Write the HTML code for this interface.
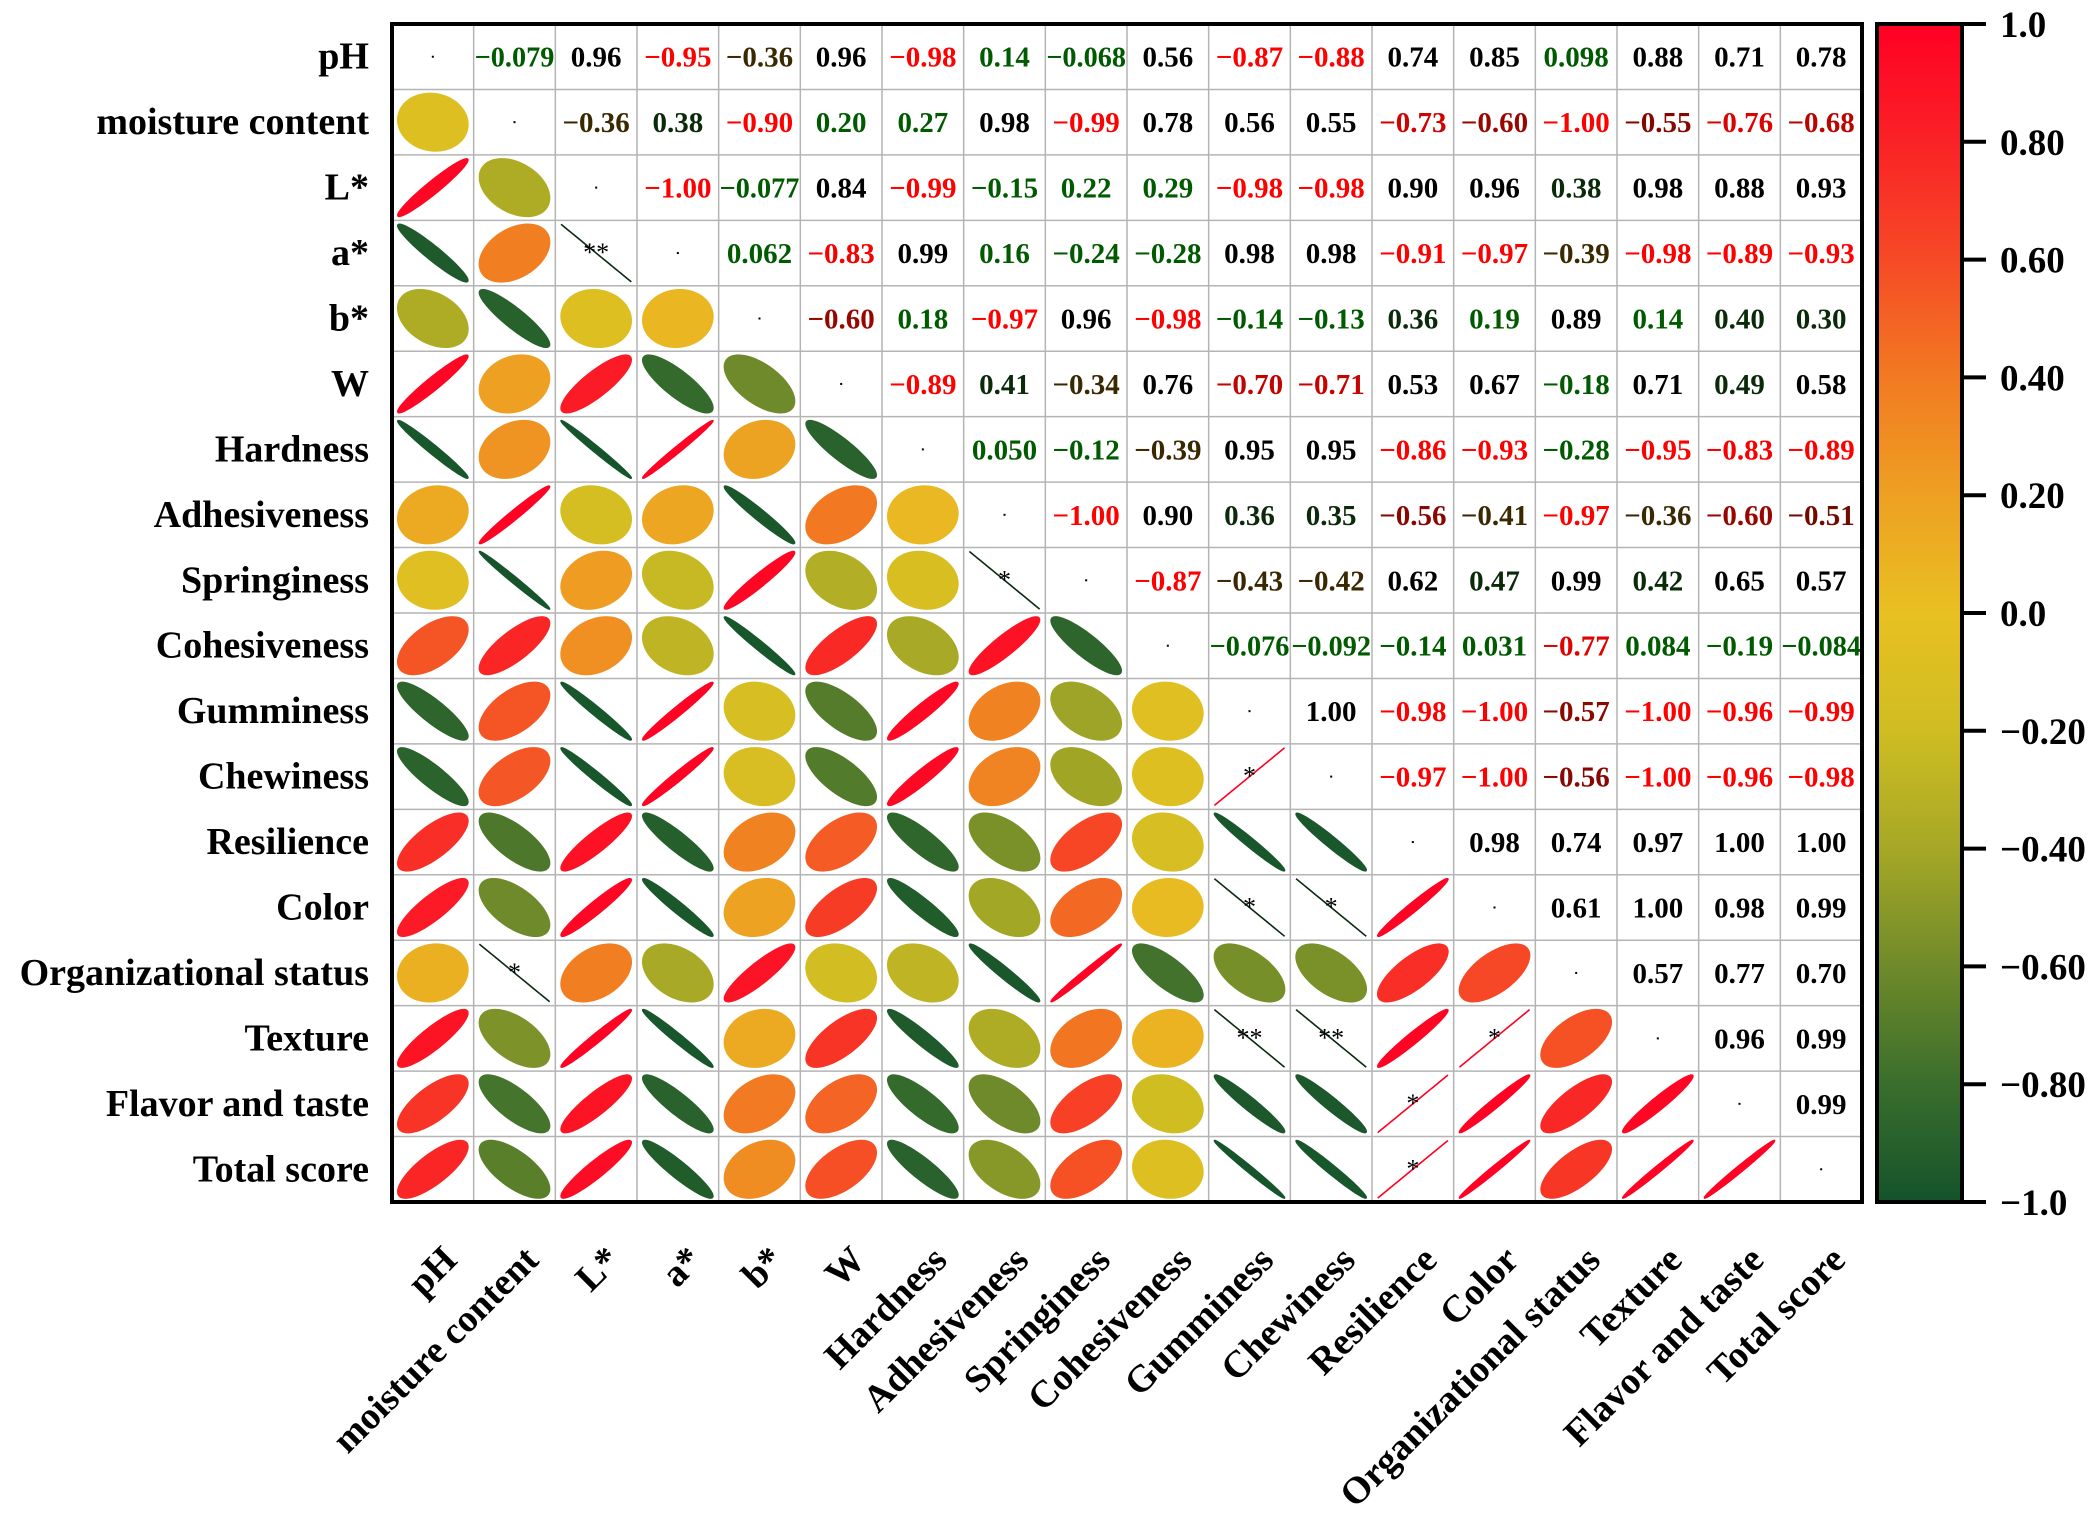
<!DOCTYPE html>
<html><head><meta charset="utf-8"><style>
html,body{margin:0;padding:0;background:#fff;}
svg{display:block;font-family:"Liberation Serif",serif;font-weight:bold;}
</style></head><body>
<svg id="chart" width="2096" height="1515" viewBox="0 0 2096 1515">
<defs>
<linearGradient id="cbgrad" x1="0" y1="0" x2="0" y2="1">
<stop offset="0" stop-color="#ff0024"/>
<stop offset="0.1" stop-color="#fa2226"/>
<stop offset="0.2" stop-color="#f64a26"/>
<stop offset="0.3" stop-color="#f27a22"/>
<stop offset="0.4" stop-color="#eea022"/>
<stop offset="0.5" stop-color="#e8c022"/>
<stop offset="0.6" stop-color="#cfbd22"/>
<stop offset="0.7" stop-color="#a6a826"/>
<stop offset="0.8" stop-color="#6f8a2a"/>
<stop offset="0.9" stop-color="#3a6e2c"/>
<stop offset="1" stop-color="#14532b"/>
</linearGradient>
</defs>
<g id="grid"></g>
<g id="marks"></g>
<rect x="392" y="24" width="1470" height="1178" fill="none" stroke="#000" stroke-width="4"/>
<g id="rowlabels"></g>
<g id="collabels"></g>
<g id="colorbar">
<rect x="1877" y="24" width="85" height="1178" fill="url(#cbgrad)" stroke="#000" stroke-width="4"/>
</g>
</svg>
<script>
const labels = ["pH","moisture content","L*","a*","b*","W","Hardness","Adhesiveness","Springiness","Cohesiveness","Gumminess","Chewiness","Resilience","Color","Organizational status","Texture","Flavor and taste","Total score"];
const upper = [
[-0.079,0.96,-0.95,-0.36,0.96,-0.98,0.14,-0.068,0.56,-0.87,-0.88,0.74,0.85,0.098,0.88,0.71,0.78],
[-0.36,0.38,-0.90,0.20,0.27,0.98,-0.99,0.78,0.56,0.55,-0.73,-0.60,-1.00,-0.55,-0.76,-0.68],
[-1.00,-0.077,0.84,-0.99,-0.15,0.22,0.29,-0.98,-0.98,0.90,0.96,0.38,0.98,0.88,0.93],
[0.062,-0.83,0.99,0.16,-0.24,-0.28,0.98,0.98,-0.91,-0.97,-0.39,-0.98,-0.89,-0.93],
[-0.60,0.18,-0.97,0.96,-0.98,-0.14,-0.13,0.36,0.19,0.89,0.14,0.40,0.30],
[-0.89,0.41,-0.34,0.76,-0.70,-0.71,0.53,0.67,-0.18,0.71,0.49,0.58],
[0.050,-0.12,-0.39,0.95,0.95,-0.86,-0.93,-0.28,-0.95,-0.83,-0.89],
[-1.00,0.90,0.36,0.35,-0.56,-0.41,-0.97,-0.36,-0.60,-0.51],
[-0.87,-0.43,-0.42,0.62,0.47,0.99,0.42,0.65,0.57],
[-0.076,-0.092,-0.14,0.031,-0.77,0.084,-0.19,-0.084],
[1.00,-0.98,-1.00,-0.57,-1.00,-0.96,-0.99],
[-0.97,-1.00,-0.56,-1.00,-0.96,-0.98],
[0.98,0.74,0.97,1.00,1.00],
[0.61,1.00,0.98,0.99],
[0.57,0.77,0.70],
[0.96,0.99],
[0.99]
];
const stars = [[3,2,"**"],[8,7,"*"],[11,10,"*"],[13,10,"*"],[13,11,"*"],[14,1,"*"],[15,10,"**"],[15,11,"**"],[15,13,"*"],[16,12,"*"],[17,12,"*"]];
const cbTicks = [1.0,0.8,0.6,0.4,0.2,0.0,-0.2,-0.4,-0.6,-0.8,-1.0];
const cbTickLabels = ["1.0","0.80","0.60","0.40","0.20","0.0","\u22120.20","\u22120.40","\u22120.60","\u22120.80","\u22121.0"];

const NS="http://www.w3.org/2000/svg";
const X0=392,Y0=24,W=1470,H=1178,N=labels.length;
const cw=W/N, ch=H/N;
const xc=i=>X0+cw*(i+0.5), yc=i=>Y0+ch*(i+0.5);
const cbY=v=>Y0+(1-v)/2*H;
function mk(tag,attrs,parent){const e=document.createElementNS(NS,tag);for(const k in attrs)e.setAttribute(k,attrs[k]);parent.appendChild(e);return e;}
function val(i,j){if(i===j)return 1;const a=Math.min(i,j),b=Math.max(i,j);return upper[a][b-a-1];}
const cstops=[[-1,[20,83,43]],[-0.8,[58,110,44]],[-0.6,[111,138,42]],[-0.4,[166,168,38]],[-0.2,[207,189,34]],[0,[232,192,34]],[0.2,[238,160,34]],[0.4,[242,122,34]],[0.6,[246,74,38]],[0.8,[250,34,38]],[1,[255,0,36]]];
function cmap(v){for(let k=0;k<cstops.length-1;k++){const [a,ca]=cstops[k],[b,cb]=cstops[k+1];if(v<=b){const t=(v-a)/(b-a);return "rgb("+ca.map((c,q)=>Math.round(c+(cb[q]-c)*t)).join(",")+")";}}return "rgb(255,0,36)";}
function tcolor(v){if(v<=-0.5){const t=Math.min(1,(-v-0.5)/0.35);return "rgb("+Math.round(110+145*t)+","+Math.round(10*(1-t))+",0)";}
 if(v<=-0.3)return "#3a2800"; if(v<0.3)return "#005a00"; if(v<0.5)return "#0a2a0a"; return "#000";}
function fmt(v){const s=Math.abs(v)<0.1&&v!==0?Math.abs(v).toFixed(3):Math.abs(v).toFixed(2);return (v<0?"\u2212":"")+s;}

const grid=document.getElementById('grid');
for(let k=1;k<N;k++){
 const l1=mk('line',{x1:X0+cw*k,y1:Y0,x2:X0+cw*k,y2:Y0+H,stroke:'#b4b4b4','stroke-width':1.5},grid);
 
 
 const l2=mk('line',{x1:X0,y1:Y0+ch*k,x2:X0+W,y2:Y0+ch*k,stroke:'#b4b4b4','stroke-width':1.5},grid);
 
 
}
const marks=document.getElementById('marks');
const sx=cw*0.43, sy=ch*0.44;
const starMap={};stars.forEach(s=>starMap[s[0]+"_"+s[1]]=s[2]);
for(let i=0;i<N;i++){for(let j=0;j<N;j++){
 if(i===j){const d=mk('rect',{x:xc(j)-1,y:yc(i)-1,width:2,height:2,fill:'#000'},marks);
  
  continue;}
 const v=val(i,j);
 if(j>i){const t=mk('text',{x:xc(j),y:yc(i)+10,'text-anchor':'middle','font-size':29,fill:tcolor(v)},marks);
  if(Math.abs(v)<0.1&&v<0){t.setAttribute('textLength',cw-2);t.setAttribute('lengthAdjust','spacingAndGlyphs');}
  t.textContent=fmt(v);
  
  
 } else {
  const st=starMap[i+"_"+j];
  const dd=Math.acos(Math.max(-1,Math.min(1,v)));
  let p="";for(let k=0;k<=72;k++){const t=k/72*2*Math.PI;const ex=Math.cos(t+dd/2),ey=Math.cos(t-dd/2);p+=(k?"L":"M")+(xc(j)+ex*sx).toFixed(2)+","+(yc(i)-ey*sy).toFixed(2);}
  p+="Z";
  let e;
  if(st){e=mk('path',{d:p,fill:'none',stroke:v>0?'#ff0020':'#0c2a10','stroke-width':1.6},marks);}
  else{e=mk('path',{d:p,fill:cmap(v),stroke:cmap(v),'stroke-width':1.5},marks);}
  
  
  if(st){const s=mk('text',{x:xc(j),y:yc(i)+8,'text-anchor':'middle','font-size':26,'font-weight':'normal',fill:'#000'},marks);
   s.textContent=st;
   
   }
 }
}}
const rl=document.getElementById('rowlabels'), cl=document.getElementById('collabels');
labels.forEach((lab,i)=>{
 const t=mk('text',{x:369,y:yc(i)+12,'text-anchor':'end','font-size':38,fill:'#000'},rl);
 t.textContent=lab;
 
 
 const x=xc(i)+26,y=1262;
 const c=mk('text',{x:x,y:y,'text-anchor':'end','font-size':38,fill:'#000',transform:'rotate(-45 '+x+' '+y+')'},cl);
 c.textContent=lab;
 
 
});
const cb=document.getElementById('colorbar');
cbTicks.forEach((v,k)=>{
 const y=cbY(v);
 const l=mk('line',{x1:1962,y1:y,x2:1986,y2:y,stroke:'#000','stroke-width':4},cb);
 
 
 const t=mk('text',{x:2000,y:y+13,'font-size':37,fill:'#000'},cb);
 t.textContent=cbTickLabels[k];
 
 
});
</script>
</body></html>
